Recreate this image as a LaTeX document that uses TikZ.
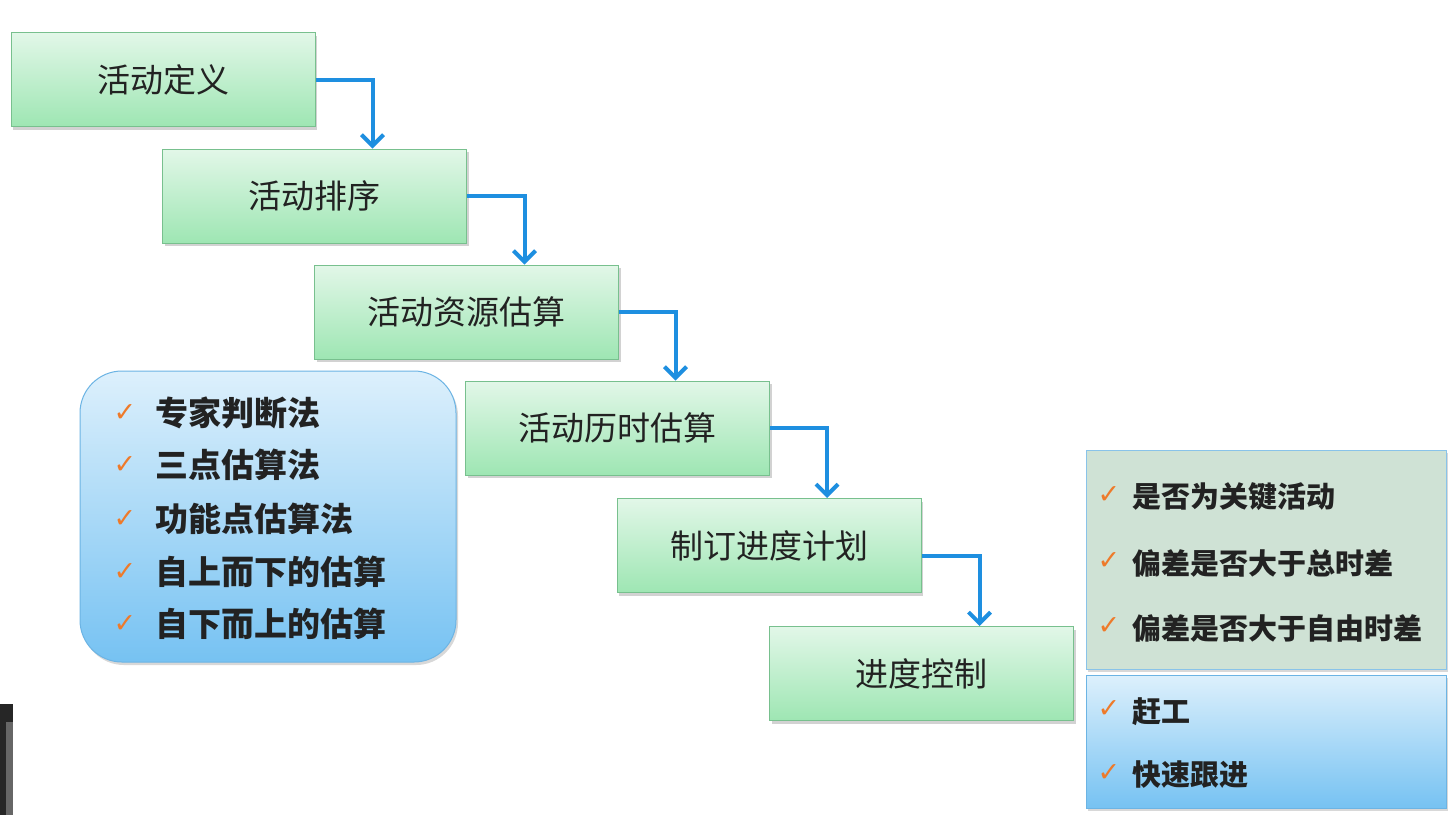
\documentclass[tikz,border=0pt]{standalone}
\usepackage{fontspec}
\setmainfont{Noto Sans CJK SC}
\newfontfamily\symfont{DejaVu Sans}
\usetikzlibrary{shadows,arrows.meta}
\definecolor{greentop}{HTML}{E2F7E8}
\definecolor{greenbot}{HTML}{9EE6B3}
\definecolor{greenline}{HTML}{78C08E}
\definecolor{bluetop}{HTML}{DDF0FC}
\definecolor{bluebot}{HTML}{76C2F2}
\definecolor{blueline}{HTML}{6CB4E4}
\definecolor{grayfill}{HTML}{CFE2D5}
\definecolor{arrowblue}{HTML}{1E8FE0}
\definecolor{checkor}{HTML}{EE7A2A}
\definecolor{txt}{HTML}{222222}
\tikzset{
  stepbox/.style={draw=greenline, line width=1pt, top color=greentop, bottom color=greenbot,
    minimum width=304pt, minimum height=94pt, inner sep=0pt, text=txt,
    font=\fontsize{33pt}{36pt}\selectfont,
    drop shadow={shadow xshift=2pt, shadow yshift=-3pt, opacity=0.35}},
  flow/.style={draw=arrowblue, line width=4pt, -{Straight Barb[length=11pt,width=22pt,line width=4pt]}},
  chk/.style={text=checkor, font=\symfont\fontsize{27pt}{30pt}\selectfont, inner sep=0pt},
  litem/.style={anchor=west, text=txt, inner sep=0pt, font=\bfseries\fontsize{33pt}{36pt}\selectfont},
  ritem/.style={anchor=west, text=txt, inner sep=0pt, font=\bfseries\fontsize{29pt}{32pt}\selectfont},
}
\begin{document}
\begin{tikzpicture}[x=1pt,y=-1pt]
\useasboundingbox[fill=white] (0,0) rectangle (1455,815);
\fill[black!85] (0,704) rectangle (13,815);
\fill[black!60] (6,722) rectangle (13,815);

\node[stepbox] (b1) at (163,79.5) {活动定义};
\node[stepbox] (b2) at (314.5,196) {活动排序};
\node[stepbox] (b3) at (466.5,312) {活动资源估算};
\node[stepbox] (b4) at (617.5,428) {活动历时估算};
\node[stepbox] (b5) at (769,545.5) {制订进度计划};
\node[stepbox] (b6) at (921.5,673.5) {进度控制};

\draw[flow] (b1.east) -| ([xshift=58pt]b2.north);
\draw[flow] (b2.east) -| ([xshift=58pt]b3.north);
\draw[flow] (b3.east) -| ([xshift=58pt]b4.north);
\draw[flow] (b4.east) -| ([xshift=58pt]b5.north);
\draw[flow] ([yshift=-10pt]b5.east) -| ([xshift=58pt]b6.north);

% left list
\node[draw=blueline, line width=1pt, rounded corners=42pt, top color=bluetop, bottom color=bluebot,
  minimum width=376pt, minimum height=291pt,
  drop shadow={shadow xshift=2pt, shadow yshift=-3pt, opacity=0.3}] (lb) at (268,516.5) {};
\node[chk] (lc1) at (125,413) {✓}; \node[litem] (l1) at (155,413) {专家判断法};
\node[chk] (lc2) at (125,465) {✓}; \node[litem] (l2) at (155,465) {三点估算法};
\node[chk] (lc3) at (125,519) {✓}; \node[litem] (l3) at (155,519) {功能点估算法};
\node[chk] (lc4) at (125,572) {✓}; \node[litem] (l4) at (155,572) {自上而下的估算};
\node[chk] (lc5) at (125,624) {✓}; \node[litem] (l5) at (155,624) {自下而上的估算};

% right boxes
\node[draw=blueline!80, line width=1pt, fill=grayfill, minimum width=360pt, minimum height=219pt,
  drop shadow={shadow xshift=2pt, shadow yshift=-3pt, opacity=0.3}] (rt) at (1266,559.5) {};
\node[draw=blueline, line width=1pt, top color=bluetop, bottom color=bluebot, minimum width=360pt, minimum height=133pt,
  drop shadow={shadow xshift=2pt, shadow yshift=-3pt, opacity=0.3}] (rb) at (1266,741.5) {};
\node[chk] (rc1) at (1109,495) {✓}; \node[ritem] (r1) at (1132,497) {是否为关键活动};
\node[chk] (rc2) at (1109,561) {✓}; \node[ritem] (r2) at (1132,563) {偏差是否大于总时差};
\node[chk] (rc3) at (1109,626) {✓}; \node[ritem] (r3) at (1132,628) {偏差是否大于自由时差};
\node[chk] (rc4) at (1109,709) {✓}; \node[ritem] (r4) at (1132,712) {赶工};
\node[chk] (rc5) at (1109,773) {✓}; \node[ritem] (r5) at (1132,775) {快速跟进};
\end{tikzpicture}
\end{document}
